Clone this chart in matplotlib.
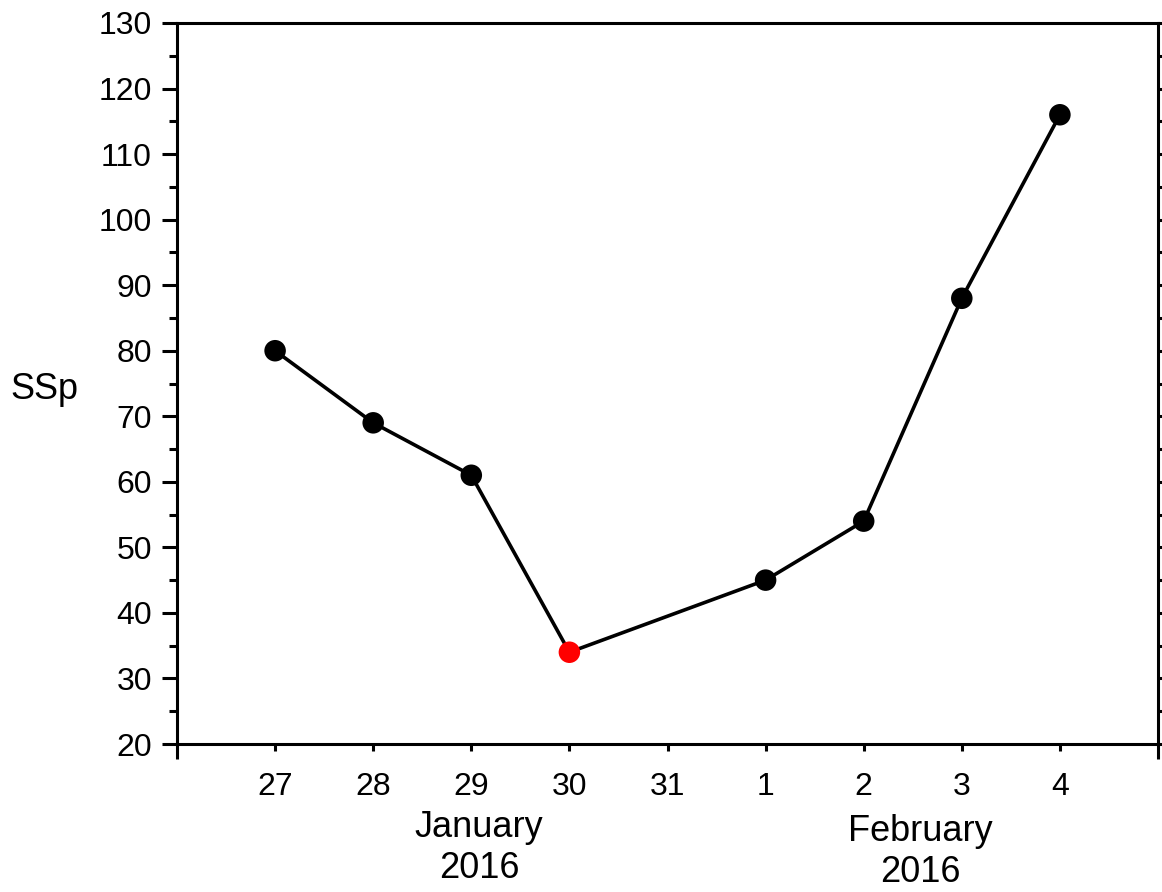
import matplotlib.pyplot as plt
from matplotlib.ticker import MultipleLocator

plt.rcParams['font.family'] = ['Liberation Sans', 'DejaVu Sans']

# data
days = ['27', '28', '29', '30', '31', '1', '2', '3', '4']
day_pos = [1, 2, 3, 4, 5, 6, 7, 8, 9]
obs_pos = [1, 2, 3, 4, 6, 7, 8, 9]
ssp = [80, 69, 61, 34, 45, 54, 88, 116]
min_idx = 3  # lowest value, drawn red

fig = plt.figure(figsize=(11.62, 8.92), dpi=100)
ax = fig.add_axes([177 / 1162, 1 - 744 / 892, (1158 - 177) / 1162, (744 - 23) / 892])

ax.plot(obs_pos, ssp, color='black', lw=2.6, zorder=2)
colors = ['red' if i == min_idx else 'black' for i in range(len(ssp))]
ax.scatter(obs_pos, ssp, s=240, c=colors, zorder=3, edgecolors='none')

ax.set_xlim(0, 10)
ax.set_ylim(20, 130)

# y ticks
ax.yaxis.set_major_locator(MultipleLocator(10))
ax.yaxis.set_minor_locator(MultipleLocator(5))
ax.tick_params(axis='y', which='major', direction='out', length=11, width=2.2,
               labelsize=23, right=True, pad=7)
ax.tick_params(axis='y', which='minor', direction='out', length=6, width=2.2, right=True)

# x ticks: date labels as minor, ends as major
ax.set_xticks([0, 10])
ax.set_xticklabels(['', ''])
ax.set_xticks(day_pos, minor=True)
ax.set_xticklabels(days, minor=True)
ax.tick_params(axis='x', which='major', direction='out', length=11, width=2.2)
ax.tick_params(axis='x', which='minor', direction='out', length=5, width=2.2,
               labelsize=23, pad=15)

for sp in ax.spines.values():
    sp.set_linewidth(2.2)

ax.set_ylabel('SSp', fontsize=26, rotation=0, va='center')
ax.yaxis.set_label_coords(-0.135, 0.491)

fig.text(479 / 1162, 1 - 848 / 892, 'January\n2016', fontsize=26, ha='center',
         va='center', linespacing=1.2)
fig.text(920 / 1162, 1 - 852 / 892, 'February\n2016', fontsize=26, ha='center',
         va='center', linespacing=1.2)

fig.savefig('out.png', dpi=100)
